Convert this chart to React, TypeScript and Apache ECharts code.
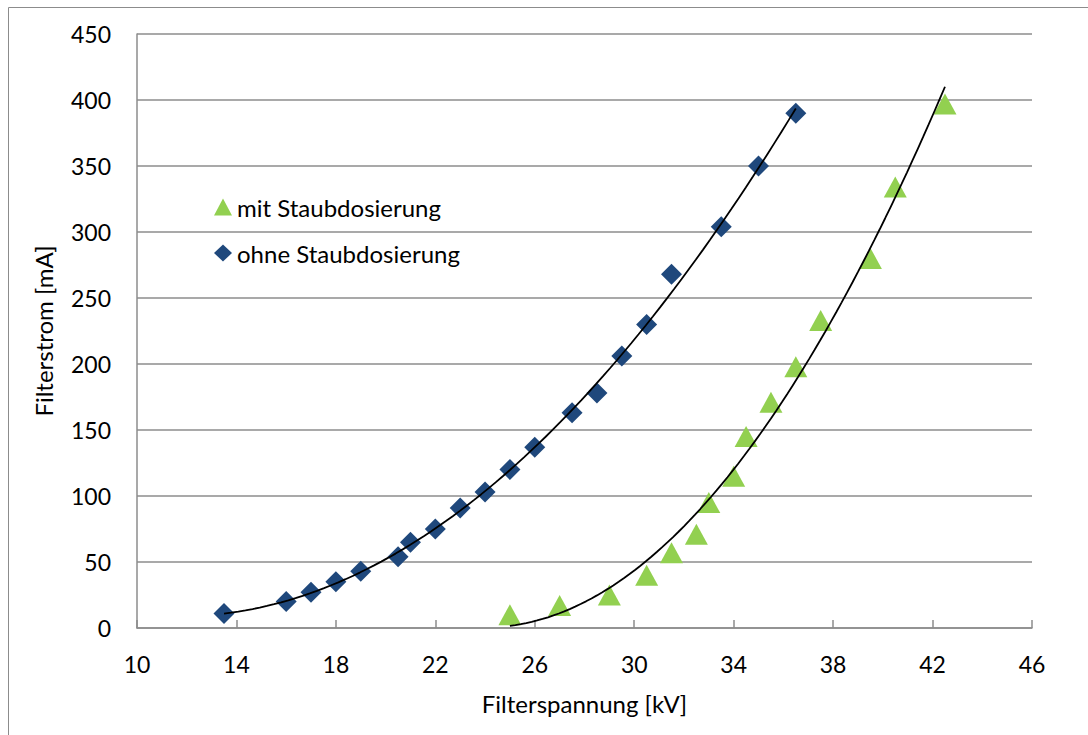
import React, { useEffect, useRef } from "react";
import * as echarts from "echarts";

const ohneX = [13.5, 16, 17, 18, 19, 20.5, 21, 22, 23, 24, 25, 26, 27.5, 28.5, 29.5, 30.5, 31.5, 33.5, 35, 36.5];
const ohneY = [11, 20, 27, 35, 43, 54, 65, 75, 91, 103, 120, 137, 163, 178, 206, 230, 268, 304, 350, 390];
const mitX = [25, 27, 29, 30.5, 31.5, 32.5, 33, 34, 34.5, 35.5, 36.5, 37.5, 39.5, 40.5, 42.5];
const mitY = [10, 17, 25, 40, 57, 71, 95, 115, 145, 171, 198, 233, 280, 334, 397];

const seriesNames = ["mit Staubdosierung", "ohne Staubdosierung"];
const xAxisName = "Filterspannung [kV]";
const yAxisName = "Filterstrom [mA]";

// quadratic least-squares trendline (as Excel's polynomial order 2)
function polyfit2(xs: number[], ys: number[]) {
  let s0 = 0, s1 = 0, s2 = 0, s3 = 0, s4 = 0, t0 = 0, t1 = 0, t2 = 0;
  for (let i = 0; i < xs.length; i++) {
    const x = xs[i], y = ys[i];
    s0 += 1; s1 += x; s2 += x * x; s3 += x * x * x; s4 += x * x * x * x;
    t0 += y; t1 += x * y; t2 += x * x * y;
  }
  const A = [[s0, s1, s2, t0], [s1, s2, s3, t1], [s2, s3, s4, t2]];
  for (let c = 0; c < 3; c++) {
    for (let r = c + 1; r < 3; r++) {
      const f = A[r][c] / A[c][c];
      for (let k = c; k < 4; k++) A[r][k] -= f * A[c][k];
    }
  }
  const b = [0, 0, 0];
  for (let r = 2; r >= 0; r--) {
    let s = A[r][3];
    for (let k = r + 1; k < 3; k++) s -= A[r][k] * b[k];
    b[r] = s / A[r][r];
  }
  return b;
}
function trend(xs: number[], ys: number[]) {
  const b = polyfit2(xs, ys);
  const lo = Math.min(...xs), hi = Math.max(...xs);
  const pts: number[][] = [];
  const n = 80;
  for (let i = 0; i <= n; i++) {
    const x = lo + ((hi - lo) * i) / n;
    pts.push([x, b[0] + b[1] * x + b[2] * x * x]);
  }
  return pts;
}

const FONT = "Lato";
const FS_TEXT = 24;
const FS_TICK = 23;

export default function App() {
  const ref = useRef<HTMLDivElement>(null);
  useEffect(() => {
    const chart = echarts.init(ref.current!, null, { renderer: "svg" });
    chart.setOption({
      animation: false,
      backgroundColor: "#fff",
      textStyle: { fontFamily: FONT },
      graphic: [
        {
          type: "rect",
          shape: { x: 8.5, y: 7.5, width: 1200, height: 800 },
          style: { fill: "none", stroke: "#8c8c8c", lineWidth: 1 },
          silent: true,
        },
      ],
      grid: { left: 137, top: 34, right: 56, bottom: 107, containLabel: false },
      legend: {
        data: [
          { name: seriesNames[0], icon: "triangle" },
          { name: seriesNames[1], icon: "diamond" },
        ],
        orient: "vertical",
        left: 209,
        top: 190,
        itemWidth: 18,
        itemHeight: 17,
        itemGap: 22,
        itemTextGap: 6,
        textStyle: { fontFamily: FONT, fontSize: FS_TEXT, color: "#000" },
      },
      xAxis: {
        type: "value",
        min: 10,
        max: 46,
        interval: 4,
        name: xAxisName,
        nameLocation: "middle",
        nameGap: 63,
        nameTextStyle: { fontFamily: FONT, fontSize: FS_TEXT, color: "#000" },
        axisLine: { lineStyle: { color: "#8c8c8c", width: 1.5 } },
        axisTick: { inside: true, length: 8, lineStyle: { color: "#8c8c8c", width: 1.5 } },
        axisLabel: { fontFamily: FONT, fontSize: FS_TICK, color: "#000", margin: 24 },
        splitLine: { show: false },
      },
      yAxis: {
        type: "value",
        min: 0,
        max: 450,
        interval: 50,
        name: yAxisName,
        nameLocation: "middle",
        nameGap: 82,
        nameTextStyle: { fontFamily: FONT, fontSize: FS_TEXT, color: "#000" },
        axisLine: { show: true, lineStyle: { color: "#8c8c8c", width: 1.5 } },
        axisTick: { show: false },
        axisLabel: { fontFamily: FONT, fontSize: FS_TICK, color: "#000", margin: 26 },
        splitLine: { lineStyle: { color: "#8c8c8c", width: 1.5 } },
      },
      series: [
        {
          name: seriesNames[0],
          type: "scatter",
          symbol: "triangle",
          symbolSize: [23, 21],
          itemStyle: { color: "#92d050", opacity: 1 },
          data: mitX.map((x, i) => [x, mitY[i]]),
          z: 3,
        },
        {
          name: seriesNames[1],
          type: "scatter",
          symbol: "diamond",
          symbolSize: [21, 21],
          itemStyle: { color: "#1f487c", opacity: 1 },
          data: ohneX.map((x, i) => [x, ohneY[i]]),
          z: 3,
        },
        {
          name: "trend-mit",
          type: "line",
          showSymbol: false,
          symbol: "none",
          smooth: false,
          lineStyle: { color: "#000", width: 1.8 },
          data: trend(mitX, mitY),
          z: 4,
          silent: true,
        },
        {
          name: "trend-ohne",
          type: "line",
          showSymbol: false,
          symbol: "none",
          smooth: false,
          lineStyle: { color: "#000", width: 1.8 },
          data: trend(ohneX, ohneY),
          z: 4,
          silent: true,
        },
      ],
    });
    return () => chart.dispose();
  }, []);
  return (
    <div
      ref={ref}
      style={{ position: "fixed", left: 0, top: 0, width: 1088, height: 735 }}
    />
  );
}
